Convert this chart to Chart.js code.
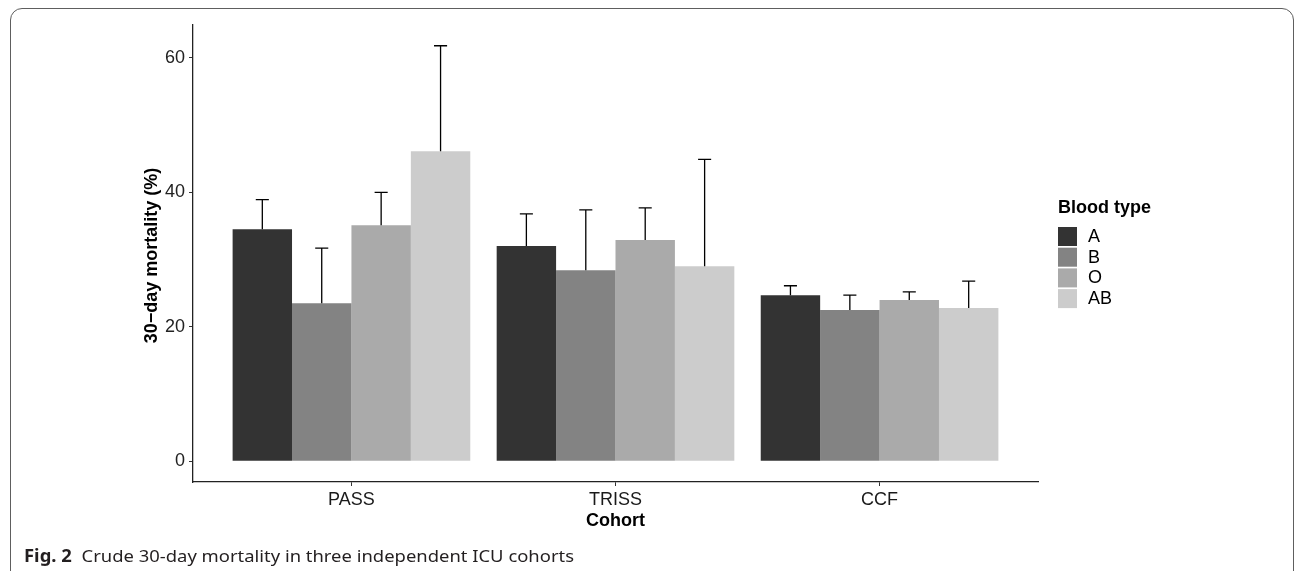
<!DOCTYPE html>
<html>
<head>
<meta charset="utf-8">
<script src="https://cdn.jsdelivr.net/npm/chart.js@4.4.1/dist/chart.umd.min.js"></script>
<style>
  html, body { margin: 0; padding: 0; background: #fff; }
  #wrap { position: relative; width: 1296px; height: 571px; overflow: hidden; }
  #frame {
    position: absolute; left: 10px; top: 8px; width: 1284px; height: 575px;
    border: 1.4px solid #5e5e5e; border-radius: 12px; box-sizing: border-box;
  }
  canvas { position: absolute; left: 0; top: 0; }
</style>
</head>
<body>
<div id="wrap">
  <div id="frame"></div>
  <canvas id="chart" width="1296" height="571"></canvas>
</div>
<script>
// cohorts on the x axis, blood types as series
const cohorts = ['PASS', 'TRISS', 'CCF'];
const bloodTypes = ['A', 'B', 'O', 'AB'];
const typeColors = ['#333333', '#838383', '#aaaaaa', '#cccccc'];

// crude 30-day mortality (%) per cohort
const mortA = [34.5, 32.0, 24.7];
const mortB = [23.5, 28.4, 22.5];
const mortO = [35.1, 32.9, 24.0];
const mortAB = [46.1, 29.0, 22.8];

// upper end of the error bars
const upperA = [38.9, 36.8, 26.1];
const upperB = [31.7, 37.4, 24.7];
const upperO = [40.0, 37.7, 25.2];
const upperAB = [61.8, 44.9, 26.8];

const yTicks = [0, 20, 40, 60];

const mortality = [mortA, mortB, mortO, mortAB];
const upper = [upperA, upperB, upperO, upperAB];

// ggplot-style 5% expansion
const topVal = Math.max(...upper.flat());
const yMin = -0.05 * topVal;
const yMax = topVal * 1.05;

const FONT = "'Liberation Sans', Arial, sans-serif";

const errorBars = {
  id: 'errorBars',
  afterDatasetsDraw(chart) {
    const ctx = chart.ctx;
    const y = chart.scales.y;
    ctx.save();
    ctx.strokeStyle = '#000';
    ctx.lineWidth = 1.3;
    chart.data.datasets.forEach((ds, i) => {
      const meta = chart.getDatasetMeta(i);
      meta.data.forEach((bar, j) => {
        const yTop = y.getPixelForValue(upper[i][j]);
        const half = bar.width * 0.11;
        ctx.beginPath();
        ctx.moveTo(bar.x, bar.y);
        ctx.lineTo(bar.x, yTop);
        ctx.moveTo(bar.x - half, yTop);
        ctx.lineTo(bar.x + half, yTop);
        ctx.stroke();
      });
    });
    ctx.restore();
  }
};

const decorations = {
  id: 'decorations',
  afterDraw(chart) {
    const ctx = chart.ctx;
    const area = chart.chartArea;
    ctx.save();

    // axis titles
    ctx.fillStyle = '#000';
    ctx.font = `bold 18px ${FONT}`;
    ctx.textAlign = 'center';
    ctx.textBaseline = 'middle';
    ctx.save();
    ctx.translate(152, (area.top + area.bottom) / 2 + 2);
    ctx.rotate(-Math.PI / 2);
    ctx.fillText('30\u2212day mortality (%)', 0, 0);
    ctx.restore();
    ctx.textBaseline = 'alphabetic';
    ctx.fillText('Cohort', (area.left + area.right) / 2, 526);

    // legend
    ctx.textAlign = 'left';
    ctx.fillText('Blood type', 1058, 213);
    ctx.font = `18px ${FONT}`;
    ctx.textBaseline = 'middle';
    bloodTypes.forEach((t, i) => {
      const top = 227 + i * 20.7;
      ctx.fillStyle = typeColors[i];
      ctx.fillRect(1058, top, 19, 19);
      ctx.fillStyle = '#000';
      ctx.fillText(t, 1088, top + 10);
    });

    // caption
    ctx.textBaseline = 'alphabetic';
    const boldPart = 'Fig. 2';
    const restPart = 'Crude 30-day mortality in three independent ICU cohorts';
    ctx.font = `bold 17px 'Noto Sans', sans-serif`;
    const wBold = ctx.measureText(boldPart).width;
    ctx.font = `17px 'Noto Sans', sans-serif`;
    const wRest = ctx.measureText(restPart).width;
    const gap = 9;
    const target = 574 - 24;
    const sx = target / (wBold + gap + wRest);
    ctx.translate(24, 562);
    ctx.scale(sx, 1);
    ctx.fillStyle = '#231f20';
    ctx.font = `bold 17px 'Noto Sans', sans-serif`;
    ctx.fillText(boldPart, 0, 0);
    ctx.font = `17px 'Noto Sans', sans-serif`;
    ctx.fillText(restPart, wBold + gap, 0);
    ctx.restore();
  }
};

const datasets = bloodTypes.map((t, i) => ({
  label: t,
  data: mortality[i].map((v, j) => ({ x: j + 1, y: v })),
  backgroundColor: typeColors[i],
  borderWidth: 0,
  barPercentage: 1,
  categoryPercentage: 0.9
}));

new Chart(document.getElementById('chart'), {
  type: 'bar',
  data: { datasets },
  options: {
    responsive: false,
    devicePixelRatio: 1,
    animation: false,
    layout: { padding: { left: 0, top: 25, right: 1296 - 1038, bottom: 0 } },
    plugins: { legend: { display: false }, tooltip: { enabled: false } },
    scales: {
      x: {
        type: 'linear',
        min: 0.4,
        max: 3.6,
        offset: false,
        afterBuildTicks: (scale) => { scale.ticks = cohorts.map((c, i) => ({ value: i + 1 })); },
        afterFit: (scale) => { scale.height = 571 - 482; },
        ticks: {
          callback: (v) => cohorts[Math.round(v) - 1] || '',
          color: '#1a1a1a',
          font: { family: FONT, size: 18 },
          padding: 3,
          maxRotation: 0
        },
        grid: { drawOnChartArea: false, offset: false, tickLength: 4, color: '#333', tickWidth: 1 },
        border: { display: true, color: '#222', width: 1.3 }
      },
      y: {
        min: yMin,
        max: yMax,
        afterBuildTicks: (scale) => { scale.ticks = yTicks.map((v) => ({ value: v })); },
        afterFit: (scale) => { scale.width = 193; },
        ticks: {
          color: '#222',
          font: { family: FONT, size: 18 },
          padding: 4
        },
        grid: { drawOnChartArea: false, tickLength: 4, color: '#333', tickWidth: 1 },
        border: { display: true, color: '#222', width: 1.3 }
      }
    }
  },
  plugins: [errorBars, decorations]
});
</script>
</body>
</html>
